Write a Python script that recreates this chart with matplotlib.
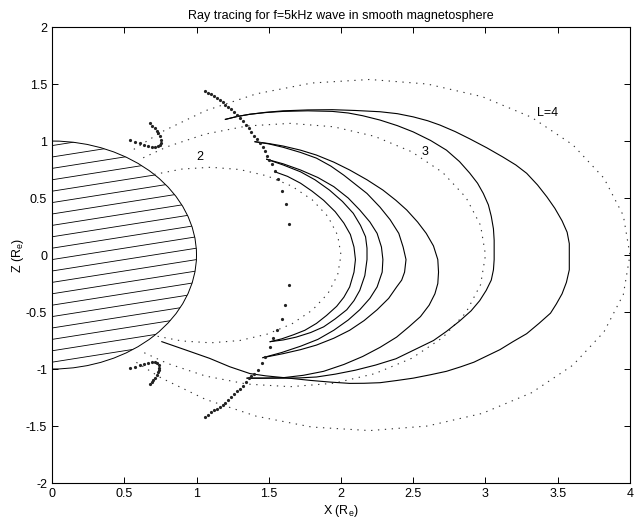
import numpy as np
import matplotlib
matplotlib.use("Agg")
import matplotlib.pyplot as plt
from matplotlib.patches import Wedge

plt.rcParams['font.family'] = ['Liberation Sans', 'DejaVu Sans']
plt.rcParams['axes.unicode_minus'] = False
plt.rcParams['mathtext.fontset'] = 'custom'
plt.rcParams['mathtext.rm'] = 'Liberation Sans'

# dipole field lines L=2,3,4
l2_x = [0.707, 0.899, 1.099, 1.299, 1.489, 1.660, 1.802, 1.910, 1.977, 2.0,
        1.977, 1.910, 1.802, 1.660, 1.489, 1.299, 1.099, 0.899, 0.707]
l2_z = [0.707, 0.754, 0.770, 0.750, 0.694, 0.604, 0.483, 0.337, 0.173, 0.0,
        -0.173, -0.337, -0.483, -0.604, -0.694, -0.750, -0.770, -0.754, -0.707]
l3_x = [0.631, 0.797, 1.061, 1.349, 1.649, 1.949, 2.233, 2.489, 2.704, 2.865, 2.966, 3.0,
        2.966, 2.865, 2.704, 2.489, 2.233, 1.949, 1.649, 1.349, 1.061, 0.797, 0.631]
l3_z = [0.853, 0.950, 1.061, 1.132, 1.155, 1.125, 1.041, 0.906, 0.724, 0.505, 0.260, 0.0,
        -0.260, -0.505, -0.724, -0.906, -1.041, -1.125, -1.155, -1.132, -1.061, -0.950, -0.853]
l4_x = [0.566, 0.755, 1.062, 1.414, 1.798, 2.199, 2.598, 2.978, 3.319, 3.605, 3.820, 3.954, 4.0,
        3.954, 3.820, 3.605, 3.319, 2.978, 2.598, 2.199, 1.798, 1.414, 1.062, 0.755, 0.566]
l4_z = [0.927, 1.078, 1.266, 1.414, 1.509, 1.540, 1.500, 1.389, 1.208, 0.966, 0.674, 0.346, 0.0,
        -0.346, -0.674, -0.966, -1.208, -1.389, -1.500, -1.540, -1.509, -1.414, -1.266, -1.078, -0.927]

# ray paths
ray_a_x = [1.20, 1.28, 1.37, 1.48, 1.60, 1.77, 1.94, 2.10, 2.27, 2.39, 2.50, 2.60, 2.685, 2.79, 2.89,
           3.01, 3.12, 3.21, 3.285, 3.36, 3.425, 3.48, 3.53, 3.565, 3.58, 3.58, 3.56, 3.53, 3.49, 3.45,
           3.37, 3.285, 3.19, 3.10, 3.01, 2.92, 2.83, 2.73, 2.62, 2.50, 2.39, 2.27, 2.16, 2.06, 1.93,
           1.79, 1.60, 1.48, 1.37, 1.23, 1.09, 0.93, 0.76]
ray_a_z = [1.19, 1.215, 1.235, 1.252, 1.265, 1.273, 1.275, 1.268, 1.257, 1.24, 1.212, 1.178, 1.14, 1.083, 1.02,
           0.94, 0.86, 0.79, 0.717, 0.615, 0.51, 0.41, 0.30, 0.20, 0.10, -0.13, -0.24, -0.34, -0.43, -0.51,
           -0.60, -0.69, -0.76, -0.83, -0.885, -0.94, -0.98, -1.02, -1.05, -1.08, -1.10, -1.12, -1.125, -1.126, -1.115,
           -1.10, -1.075, -1.06, -1.04, -0.98, -0.906, -0.835, -0.76]
ray_b_x = [1.20, 1.28, 1.37, 1.48, 1.60, 1.77, 1.94, 2.05, 2.15, 2.27, 2.39, 2.50, 2.62, 2.73, 2.82,
           2.89, 2.945, 2.985, 3.02, 3.04, 3.055, 3.06, 3.06, 3.055, 3.04, 3.005, 2.96, 2.90, 2.82,
           2.73, 2.64, 2.51, 2.38, 2.24, 2.10, 1.96, 1.83, 1.71, 1.60, 1.47, 1.35]
ray_b_z = [1.19, 1.215, 1.235, 1.25, 1.26, 1.265, 1.26, 1.246, 1.222, 1.184, 1.135, 1.08, 1.005, 0.92, 0.82,
           0.72, 0.63, 0.54, 0.44, 0.34, 0.23, 0.13, -0.04, -0.13, -0.22, -0.31, -0.40, -0.49, -0.58,
           -0.67, -0.75, -0.83, -0.91, -0.965, -1.01, -1.045, -1.07, -1.078, -1.08, -1.08, -1.08]
ray_c_x = [1.405, 1.50, 1.60, 1.72, 1.83, 1.95, 2.06, 2.18, 2.29, 2.38, 2.455, 2.53, 2.59, 2.64, 2.67,
           2.675, 2.67, 2.65, 2.61, 2.55, 2.47, 2.385, 2.27, 2.15, 2.02, 1.88, 1.74, 1.60, 1.47, 1.35]
ray_c_z = [0.994, 0.978, 0.956, 0.92, 0.877, 0.815, 0.746, 0.66, 0.57, 0.48, 0.395, 0.29, 0.19, 0.08, -0.04,
           -0.15, -0.25, -0.34, -0.44, -0.54, -0.63, -0.72, -0.81, -0.89, -0.96, -1.02, -1.055, -1.076, -1.08, -1.08]
ray_d_x = [1.405, 1.50, 1.60, 1.72, 1.83, 1.93, 2.02, 2.10, 2.18, 2.27, 2.34, 2.40, 2.43, 2.45, 2.44,
           2.42, 2.385, 2.33, 2.25, 2.16, 2.06, 1.95, 1.83, 1.72, 1.60, 1.46]
ray_d_z = [0.994, 0.975, 0.945, 0.90, 0.85, 0.78, 0.70, 0.62, 0.54, 0.42, 0.31, 0.19, 0.07, -0.04, -0.15,
           -0.22, -0.28, -0.38, -0.48, -0.575, -0.66, -0.73, -0.79, -0.83, -0.865, -0.90]
ray_e_x = [1.486, 1.60, 1.72, 1.84, 1.95, 2.05, 2.13, 2.20, 2.25, 2.28, 2.29, 2.285, 2.25, 2.20, 2.13,
           2.05, 1.95, 1.84, 1.72, 1.59, 1.46]
ray_e_z = [0.84, 0.80, 0.746, 0.68, 0.60, 0.50, 0.395, 0.29, 0.19, 0.07, -0.04, -0.15, -0.28, -0.38, -0.48,
           -0.57, -0.66, -0.74, -0.80, -0.855, -0.90]
ray_f_x = [1.486, 1.60, 1.72, 1.82, 1.92, 2.01, 2.085, 2.135, 2.17, 2.18, 2.18, 2.165, 2.13, 2.09, 2.04,
           1.96, 1.88, 1.79, 1.69, 1.60, 1.51]
ray_f_z = [0.84, 0.79, 0.73, 0.66, 0.57, 0.47, 0.366, 0.26, 0.16, 0.06, -0.04, -0.18, -0.31, -0.40, -0.48,
           -0.56, -0.63, -0.68, -0.72, -0.745, -0.76]
ray_g_x = [1.543, 1.63, 1.72, 1.80, 1.88, 1.96, 2.02, 2.065, 2.09, 2.10, 2.09, 2.06, 2.02, 1.97, 1.90,
           1.83, 1.75, 1.67, 1.59, 1.51]
ray_g_z = [0.73, 0.69, 0.63, 0.56, 0.48, 0.38, 0.28, 0.18, 0.07, -0.04, -0.15, -0.28, -0.37, -0.45, -0.53,
           -0.60, -0.66, -0.70, -0.735, -0.76]

# dotted chain of points
chain_up_x = [1.06, 1.08, 1.10, 1.12, 1.14, 1.16, 1.18, 1.20, 1.22, 1.24, 1.26, 1.28, 1.30, 1.32,
              1.34, 1.36, 1.38, 1.40, 1.42, 1.44, 1.46, 1.475, 1.49, 1.505, 1.52, 1.543, 1.566,
              1.594, 1.617, 1.638]
chain_up_z = [1.44, 1.425, 1.41, 1.395, 1.378, 1.362, 1.342, 1.32, 1.30, 1.277, 1.252, 1.226, 1.20, 1.175,
              1.145, 1.11, 1.08, 1.047, 1.015, 0.985, 0.945, 0.91, 0.87, 0.83, 0.80, 0.74, 0.664,
              0.564, 0.447, 0.27]
chain_lo_x = [1.638, 1.615, 1.59, 1.555, 1.53, 1.509, 1.474, 1.451, 1.428, 1.40, 1.38, 1.36, 1.34,
              1.32, 1.30, 1.28, 1.26, 1.24, 1.22, 1.20, 1.18, 1.16, 1.14, 1.12, 1.10, 1.08, 1.06]
chain_lo_z = [-0.263, -0.44, -0.565, -0.658, -0.73, -0.804, -0.892, -0.95, -1.009, -1.045, -1.065, -1.082, -1.115,
              -1.145, -1.172, -1.197, -1.222, -1.248, -1.273, -1.295, -1.315, -1.333, -1.35, -1.363, -1.38, -1.40, -1.417]

# small hooks near the Earth
hook_up_x = [0.54, 0.575, 0.609, 0.64, 0.667, 0.69, 0.713, 0.735, 0.747, 0.752, 0.752, 0.746, 0.736,
             0.725, 0.713, 0.695, 0.678]
hook_up_z = [1.009, 0.995, 0.98, 0.968, 0.959, 0.952, 0.95, 0.955, 0.965, 0.985, 1.009, 1.04, 1.067,
             1.09, 1.111, 1.135, 1.155]
hook_lo_x = [0.54, 0.575, 0.609, 0.64, 0.667, 0.69, 0.713, 0.73, 0.743, 0.743, 0.74, 0.733, 0.724,
             0.712, 0.70, 0.69, 0.678]
hook_lo_z = [-0.994, -0.98, -0.965, -0.953, -0.945, -0.938, -0.936, -0.945, -0.965, -0.99, -1.009, -1.03, -1.053,
             -1.075, -1.096, -1.113, -1.13]

fig = plt.figure(figsize=(6.35, 5.24), dpi=100)
ax = fig.add_axes([0.0819, 0.0782, 0.9102, 0.8702])

# Earth: half disc with slanted hatching
earth = Wedge((0, 0), 1, -90, 90, facecolor='white', edgecolor='black', linewidth=0.7, zorder=2)
ax.add_patch(earth)
for z0 in np.arange(-1.14, 1.0, 0.1):
    ln, = ax.plot([0, 1.1], [z0, z0 + 0.22], color='black', lw=0.6, zorder=3)
    ln.set_clip_path(earth)

dot_style = dict(color='#333333', lw=0.8, linestyle=(0, (1.2, 5)))
ax.plot(l2_x, l2_z, **dot_style)
ax.plot(l3_x, l3_z, **dot_style)
ax.plot(l4_x, l4_z, **dot_style)

for rx, rz in [(ray_a_x, ray_a_z), (ray_b_x, ray_b_z), (ray_c_x, ray_c_z), (ray_d_x, ray_d_z),
               (ray_e_x, ray_e_z), (ray_f_x, ray_f_z), (ray_g_x, ray_g_z)]:
    ax.plot(rx, rz, color='black', lw=0.8)

for px, pz in [(chain_up_x, chain_up_z), (chain_lo_x, chain_lo_z),
               (hook_up_x, hook_up_z), (hook_lo_x, hook_lo_z)]:
    ax.plot(px, pz, linestyle='none', marker='o', markersize=2.3, color='#222222', mec='none')

ax.text(1.024, 0.862, '2', ha='center', va='center', fontsize=9)
ax.text(2.58, 0.906, '3', ha='center', va='center', fontsize=9)
ax.text(3.43, 1.25, 'L=4', ha='center', va='center', fontsize=9)

ax.set_xlim(0, 4)
ax.set_ylim(-2, 2)
ax.set_xticks(np.arange(0, 4.01, 0.5))
ax.set_yticks(np.arange(-2, 2.01, 0.5))
ax.set_xticklabels(['0', '0.5', '1', '1.5', '2', '2.5', '3', '3.5', '4'])
ax.set_yticklabels(['-2', '-1.5', '-1', '-0.5', '0', '0.5', '1', '1.5', '2'])
ax.tick_params(direction='in', top=True, right=True, length=4, width=0.7, labelsize=9)
for s in ax.spines.values():
    s.set_linewidth(0.8)
ax.set_xlabel(r'X (R$_\mathrm{e}$)', fontsize=9, labelpad=2)
ax.set_ylabel(r'Z (R$_\mathrm{e}$)', fontsize=9, labelpad=0)
ax.set_title('Ray tracing for f=5kHz wave in smooth magnetosphere', fontsize=9, pad=6)

fig.savefig('out.png', dpi=100)
